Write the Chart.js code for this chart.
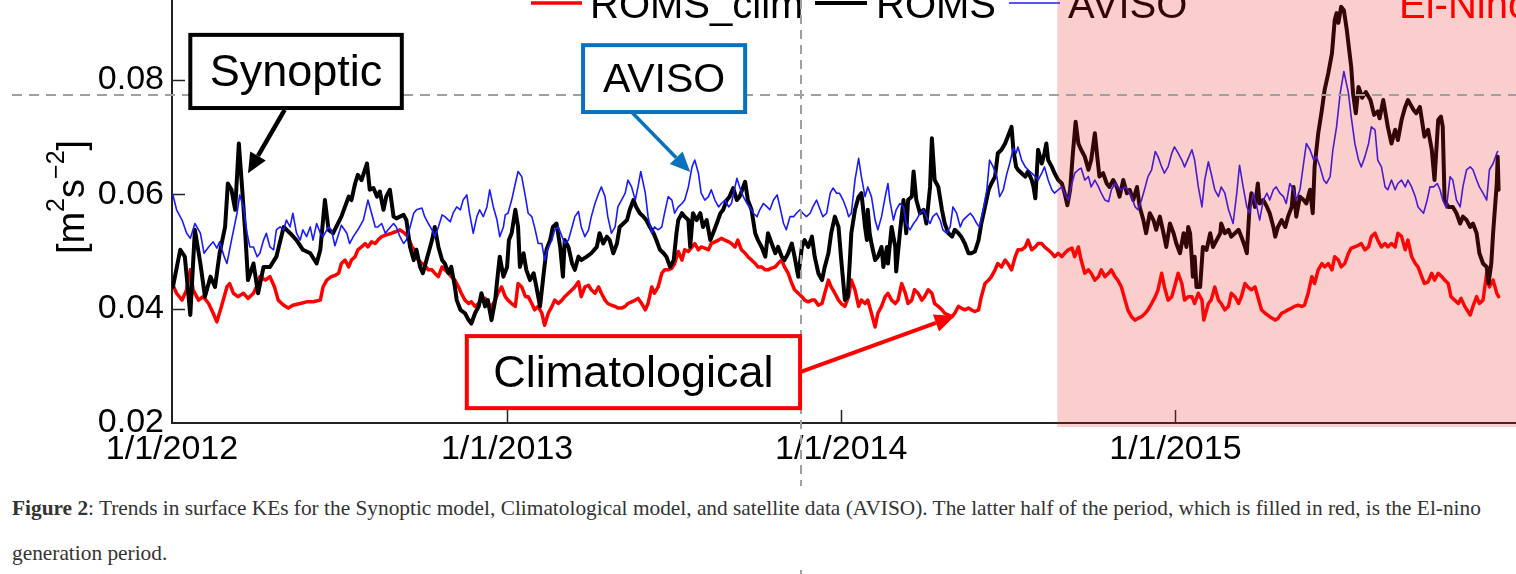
<!DOCTYPE html>
<html>
<head>
<meta charset="utf-8">
<script src="https://cdn.jsdelivr.net/npm/chart.js@4/dist/chart.umd.min.js"></script>
<style>
  html, body { margin: 0; padding: 0; background: #fff; overflow: hidden; }
  #wrap { position: relative; width: 1516px; height: 574px; }
  #c { position: absolute; left: 0; top: 0; }
  #caption { position: absolute; left: 12px; top: 486px; width: 1500px; height: 80px; background: #fff;
             font-family: "Liberation Serif", "Times New Roman", serif; font-size: 20px; line-height: 45px; color: #333; }
  #caption .l1 { white-space: nowrap; display: inline-block; }
</style>
</head>
<body>
<div id="wrap">
  <canvas id="c" width="1516" height="574"></canvas>
  <div id="caption">
    <div class="l1"><b>Figure 2</b>: Trends in surface KEs for the Synoptic model, Climatological model, and satellite data (AVISO). The latter half of the period, which is filled in red, is the El-nino</div>
    <div class="l2">generation period.</div>
  </div>
</div>
<script>
// Surface kinetic energy, [day since 1/1/2012, m^2 s^-2]
const romsClim = [
  [1,0.0441],[5,0.0427],[11,0.0415],[16,0.0433],[20,0.0468],[23,0.0433],[29,0.0415],[34,0.0421],[40,0.0409],[45,0.0392],
  [49,0.0377],[54,0.0404],[60,0.0438],[63,0.0444],[67,0.0427],[72,0.0421],[78,0.0427],[83,0.0418],[89,0.0427],[93,0.0441],
  [96,0.0456],[102,0.0450],[107,0.0456],[112,0.0438],[116,0.0415],[122,0.0406],[127,0.0401],[132,0.0406],[140,0.0409],[147,0.0412],
  [154,0.0412],[162,0.0415],[165,0.0438],[169,0.0450],[174,0.0456],[178,0.0458],[182,0.0462],[185,0.0479],[189,0.0485],[193,0.0473],
  [196,0.0485],[200,0.0491],[203,0.0503],[207,0.0508],[211,0.0514],[214,0.0508],[218,0.0517],[222,0.0514],[225,0.0520],[229,0.0526],
  [234,0.0529],[240,0.0532],[245,0.0535],[249,0.0538],[254,0.0532],[258,0.0526],[262,0.0508],[265,0.0503],[269,0.0485],[273,0.0479],
  [276,0.0476],[280,0.0468],[284,0.0468],[287,0.0462],[291,0.0456],[295,0.0473],[298,0.0468],[302,0.0462],[305,0.0456],[309,0.0450],
  [313,0.0438],[316,0.0427],[320,0.0415],[324,0.0409],[327,0.0412],[331,0.0404],[335,0.0409],[338,0.0415],[342,0.0418],[345,0.0409],
  [349,0.0404],[353,0.0415],[356,0.0427],[360,0.0438],[364,0.0421],[367,0.0415],[371,0.0409],[375,0.0404],[378,0.0444],[382,0.0438],
  [386,0.0421],[389,0.0421],[393,0.0409],[396,0.0398],[400,0.0404],[404,0.0392],[407,0.0371],[411,0.0392],[415,0.0404],[418,0.0415],
  [422,0.0409],[426,0.0415],[429,0.0421],[433,0.0427],[437,0.0433],[440,0.0438],[444,0.0447],[447,0.0421],[451,0.0438],[455,0.0441],
  [458,0.0433],[462,0.0427],[466,0.0438],[469,0.0427],[473,0.0415],[476,0.0409],[480,0.0406],[484,0.0404],[487,0.0401],[491,0.0401],
  [495,0.0404],[498,0.0409],[502,0.0412],[506,0.0415],[509,0.0418],[513,0.0409],[517,0.0398],[520,0.0409],[524,0.0438],[527,0.0427],
  [531,0.0438],[535,0.0462],[538,0.0468],[542,0.0468],[546,0.0471],[549,0.0479],[553,0.0500],[557,0.0485],[560,0.0503],[564,0.0500],
  [568,0.0508],[571,0.0514],[575,0.0503],[578,0.0508],[582,0.0506],[586,0.0503],[589,0.0514],[593,0.0517],[597,0.0520],[600,0.0523],
  [604,0.0520],[608,0.0517],[611,0.0514],[615,0.0508],[618,0.0520],[622,0.0503],[626,0.0497],[629,0.0491],[633,0.0485],[637,0.0479],
  [640,0.0473],[644,0.0473],[648,0.0468],[651,0.0468],[655,0.0471],[659,0.0473],[662,0.0479],[666,0.0485],[669,0.0473],[673,0.0462],
  [677,0.0444],[680,0.0433],[684,0.0427],[688,0.0421],[691,0.0415],[695,0.0412],[699,0.0415],[702,0.0415],[706,0.0406],[710,0.0409],
  [713,0.0427],[717,0.0450],[720,0.0438],[724,0.0427],[728,0.0415],[731,0.0409],[735,0.0404],[739,0.0421],[742,0.0450],[746,0.0433],
  [750,0.0404],[753,0.0415],[757,0.0409],[760,0.0415],[764,0.0392],[768,0.0368],[771,0.0392],[775,0.0404],[779,0.0421],[782,0.0427],
  [786,0.0415],[790,0.0409],[793,0.0415],[797,0.0444],[801,0.0427],[804,0.0409],[808,0.0415],[811,0.0433],[815,0.0427],[819,0.0415],
  [822,0.0421],[826,0.0433],[830,0.0427],[833,0.0409],[837,0.0404],[841,0.0398],[844,0.0392],[848,0.0389],[852,0.0386],[855,0.0392],
  [859,0.0404],[862,0.0401],[866,0.0398],[870,0.0401],[873,0.0398],[877,0.0395],[881,0.0398],[884,0.0421],[888,0.0444],[892,0.0450],
  [895,0.0456],[899,0.0468],[902,0.0479],[906,0.0473],[910,0.0485],[913,0.0479],[917,0.0468],[921,0.0491],[924,0.0503],[928,0.0503],
  [932,0.0508],[935,0.0520],[939,0.0503],[943,0.0508],[946,0.0514],[950,0.0514],[953,0.0508],[957,0.0503],[961,0.0497],[964,0.0491],
  [968,0.0497],[972,0.0491],[975,0.0497],[979,0.0503],[983,0.0506],[986,0.0491],[990,0.0508],[993,0.0485],[997,0.0462],[1001,0.0468],
  [1004,0.0462],[1008,0.0450],[1012,0.0456],[1015,0.0468],[1019,0.0456],[1023,0.0462],[1026,0.0468],[1030,0.0456],[1033,0.0450],[1037,0.0438],
  [1041,0.0415],[1044,0.0398],[1048,0.0386],[1052,0.0380],[1055,0.0383],[1059,0.0386],[1063,0.0392],[1066,0.0398],[1070,0.0409],[1074,0.0421],
  [1077,0.0433],[1081,0.0462],[1084,0.0438],[1088,0.0415],[1092,0.0421],[1095,0.0438],[1099,0.0462],[1103,0.0444],[1106,0.0415],[1110,0.0421],
  [1114,0.0421],[1117,0.0409],[1121,0.0427],[1125,0.0415],[1127,0.0380],[1132,0.0409],[1135,0.0415],[1139,0.0438],[1143,0.0415],[1146,0.0409],
  [1150,0.0398],[1154,0.0404],[1157,0.0427],[1161,0.0421],[1165,0.0409],[1168,0.0421],[1172,0.0444],[1175,0.0438],[1179,0.0433],[1183,0.0438],
  [1186,0.0421],[1190,0.0398],[1194,0.0392],[1199,0.0386],[1205,0.0380],[1208,0.0383],[1212,0.0392],[1216,0.0395],[1219,0.0398],[1223,0.0401],
  [1226,0.0404],[1230,0.0406],[1234,0.0404],[1237,0.0406],[1241,0.0427],[1245,0.0456],[1248,0.0444],[1252,0.0468],[1256,0.0479],[1259,0.0473],
  [1263,0.0479],[1267,0.0468],[1270,0.0491],[1274,0.0485],[1277,0.0473],[1281,0.0479],[1285,0.0497],[1288,0.0506],[1292,0.0508],[1296,0.0511],
  [1299,0.0514],[1303,0.0503],[1307,0.0508],[1310,0.0526],[1314,0.0532],[1317,0.0520],[1321,0.0508],[1325,0.0514],[1328,0.0508],[1332,0.0514],
  [1336,0.0508],[1339,0.0532],[1343,0.0526],[1347,0.0503],[1350,0.0520],[1354,0.0491],[1358,0.0479],[1361,0.0473],[1365,0.0456],[1368,0.0444],
  [1372,0.0447],[1376,0.0462],[1379,0.0450],[1383,0.0462],[1387,0.0456],[1390,0.0450],[1394,0.0444],[1397,0.0421],[1401,0.0415],[1405,0.0409],
  [1408,0.0418],[1412,0.0404],[1418,0.0389],[1421,0.0404],[1425,0.0421],[1428,0.0409],[1432,0.0415],[1436,0.0462],[1439,0.0438],[1443,0.0450],
  [1447,0.0427],[1449,0.0421]
];

const roms = [
  [1,0.0438],[9,0.0503],[14,0.0491],[20,0.0389],[25,0.0538],[31,0.0479],[36,0.0421],[42,0.0456],[47,0.0438],[52,0.0497],
  [58,0.0543],[61,0.0619],[65,0.0608],[69,0.0573],[73,0.0689],[77,0.0602],[80,0.0532],[83,0.0450],[89,0.0479],[94,0.0427],
  [100,0.0473],[107,0.0473],[114,0.0491],[122,0.0543],[129,0.0532],[136,0.0520],[143,0.0503],[151,0.0497],[158,0.0479],[162,0.0503],
  [167,0.0590],[171,0.0538],[176,0.0532],[185,0.0561],[193,0.0596],[196,0.0590],[200,0.0619],[203,0.0634],[207,0.0625],[213,0.0654],
  [216,0.0608],[220,0.0611],[224,0.0596],[227,0.0605],[231,0.0573],[234,0.0596],[238,0.0608],[242,0.0561],[245,0.0558],[249,0.0561],
  [253,0.0564],[256,0.0555],[260,0.0508],[264,0.0485],[267,0.0503],[271,0.0473],[274,0.0462],[278,0.0485],[284,0.0520],[287,0.0543],
  [291,0.0508],[295,0.0485],[298,0.0479],[302,0.0462],[305,0.0473],[309,0.0438],[311,0.0415],[315,0.0398],[320,0.0392],[324,0.0380],
  [327,0.0374],[331,0.0392],[335,0.0404],[338,0.0427],[342,0.0404],[345,0.0415],[349,0.0380],[353,0.0415],[356,0.0462],[358,0.0491],
  [362,0.0456],[366,0.0473],[368,0.0520],[371,0.0532],[375,0.0573],[378,0.0543],[380,0.0473],[384,0.0497],[387,0.0468],[391,0.0450],
  [395,0.0462],[398,0.0438],[402,0.0404],[406,0.0462],[409,0.0503],[413,0.0520],[416,0.0543],[420,0.0549],[424,0.0508],[427,0.0456],
  [429,0.0520],[433,0.0508],[437,0.0479],[440,0.0468],[444,0.0491],[447,0.0485],[453,0.0491],[458,0.0497],[464,0.0508],[467,0.0532],
  [471,0.0514],[475,0.0526],[478,0.0520],[482,0.0497],[486,0.0514],[489,0.0543],[493,0.0549],[497,0.0555],[500,0.0573],[504,0.0590],
  [507,0.0578],[511,0.0567],[515,0.0561],[518,0.0555],[522,0.0543],[526,0.0532],[529,0.0520],[533,0.0503],[537,0.0497],[540,0.0491],
  [544,0.0473],[548,0.0485],[551,0.0532],[553,0.0555],[557,0.0567],[560,0.0561],[564,0.0555],[566,0.0508],[569,0.0567],[573,0.0555],
  [577,0.0567],[580,0.0543],[584,0.0555],[588,0.0520],[591,0.0532],[595,0.0549],[599,0.0567],[602,0.0573],[606,0.0590],[609,0.0596],
  [613,0.0611],[617,0.0590],[620,0.0596],[626,0.0622],[629,0.0590],[633,0.0573],[637,0.0532],[640,0.0520],[644,0.0508],[648,0.0491],
  [651,0.0532],[655,0.0514],[659,0.0497],[662,0.0508],[666,0.0491],[669,0.0485],[673,0.0497],[677,0.0514],[680,0.0491],[684,0.0456],
  [688,0.0508],[691,0.0520],[695,0.0508],[699,0.0526],[702,0.0491],[706,0.0462],[710,0.0450],[713,0.0473],[717,0.0497],[720,0.0532],
  [724,0.0561],[728,0.0543],[731,0.0485],[735,0.0415],[738,0.0421],[740,0.0473],[742,0.0532],[746,0.0573],[750,0.0596],[753,0.0602],
  [755,0.0573],[757,0.0543],[759,0.0520],[760,0.0573],[762,0.0532],[764,0.0514],[768,0.0485],[771,0.0491],[775,0.0508],[777,0.0473],
  [781,0.0508],[782,0.0479],[786,0.0543],[790,0.0508],[791,0.0465],[795,0.0532],[799,0.0590],[802,0.0532],[804,0.0590],[808,0.0596],
  [810,0.0640],[813,0.0590],[817,0.0567],[821,0.0573],[824,0.0549],[828,0.0613],[830,0.0698],[833,0.0625],[837,0.0613],[841,0.0573],
  [844,0.0549],[848,0.0532],[852,0.0526],[855,0.0538],[859,0.0532],[862,0.0526],[866,0.0514],[870,0.0497],[873,0.0497],[877,0.0500],
  [881,0.0520],[884,0.0549],[888,0.0578],[892,0.0608],[895,0.0619],[899,0.0631],[902,0.0672],[906,0.0678],[910,0.0689],[913,0.0701],
  [917,0.0718],[919,0.0678],[922,0.0648],[924,0.0643],[928,0.0637],[932,0.0631],[935,0.0640],[939,0.0625],[941,0.0613],[943,0.0593],
  [946,0.0678],[950,0.0654],[953,0.0672],[955,0.0689],[957,0.0660],[961,0.0648],[964,0.0637],[968,0.0625],[972,0.0619],[975,0.0602],
  [978,0.0581],[981,0.0608],[984,0.0672],[987,0.0727],[990,0.0689],[993,0.0678],[997,0.0666],[1001,0.0643],[1004,0.0660],[1008,0.0707],
  [1011,0.0660],[1013,0.0631],[1017,0.0637],[1021,0.0619],[1024,0.0613],[1028,0.0625],[1032,0.0613],[1035,0.0596],[1039,0.0625],[1043,0.0602],
  [1046,0.0608],[1050,0.0590],[1054,0.0613],[1057,0.0578],[1061,0.0555],[1064,0.0532],[1068,0.0567],[1072,0.0555],[1075,0.0538],[1079,0.0561],
  [1083,0.0532],[1086,0.0508],[1090,0.0549],[1094,0.0532],[1097,0.0514],[1101,0.0497],[1105,0.0532],[1108,0.0508],[1110,0.0543],[1112,0.0532],
  [1114,0.0485],[1115,0.0456],[1117,0.0491],[1119,0.0438],[1123,0.0438],[1125,0.0485],[1126,0.0508],[1130,0.0503],[1134,0.0532],[1137,0.0508],
  [1141,0.0520],[1145,0.0532],[1146,0.0549],[1150,0.0532],[1154,0.0538],[1157,0.0526],[1161,0.0532],[1165,0.0538],[1168,0.0526],[1172,0.0508],
  [1174,0.0497],[1177,0.0578],[1179,0.0602],[1183,0.0578],[1186,0.0619],[1188,0.0584],[1192,0.0590],[1196,0.0578],[1199,0.0567],[1203,0.0543],
  [1205,0.0526],[1208,0.0543],[1212,0.0555],[1216,0.0543],[1219,0.0561],[1223,0.0578],[1225,0.0613],[1228,0.0561],[1232,0.0596],[1236,0.0590],
  [1239,0.0584],[1243,0.0608],[1246,0.0567],[1248,0.0648],[1252,0.0707],[1256,0.0748],[1259,0.0783],[1263,0.0812],[1267,0.0847],[1270,0.0905],
  [1272,0.0917],[1274,0.0900],[1277,0.0928],[1280,0.0922],[1283,0.0890],[1286,0.0850],[1288,0.0823],[1290,0.0777],[1293,0.0742],[1296,0.0788],
  [1300,0.0769],[1304,0.0779],[1309,0.0765],[1313,0.0739],[1317,0.0745],[1319,0.0733],[1323,0.0765],[1328,0.0718],[1332,0.0689],[1336,0.0713],
  [1339,0.0695],[1343,0.0730],[1347,0.0753],[1350,0.0765],[1356,0.0748],[1359,0.0742],[1363,0.0753],[1368,0.0701],[1372,0.0713],[1376,0.0678],
  [1379,0.0625],[1383,0.0730],[1386,0.0736],[1388,0.0718],[1390,0.0590],[1394,0.0578],[1399,0.0578],[1403,0.0567],[1407,0.0549],[1410,0.0561],
  [1414,0.0555],[1418,0.0543],[1421,0.0549],[1425,0.0532],[1428,0.0497],[1432,0.0479],[1436,0.0473],[1438,0.0444],[1441,0.0479],[1443,0.0532],
  [1447,0.0619],[1448,0.0666],[1449,0.0608]
];

const aviso = [
  [1,0.0599],[5,0.0573],[11,0.0555],[16,0.0532],[20,0.0523],[25,0.0549],[31,0.0532],[35,0.0497],[40,0.0508],[45,0.0517],
  [49,0.0506],[52,0.0517],[57,0.0491],[60,0.0479],[65,0.0520],[71,0.0567],[74,0.0599],[78,0.0578],[82,0.0532],[85,0.0508],
  [89,0.0508],[93,0.0491],[96,0.0497],[100,0.0520],[103,0.0532],[107,0.0508],[111,0.0503],[114,0.0538],[118,0.0543],[122,0.0538],
  [125,0.0555],[129,0.0543],[132,0.0567],[136,0.0532],[140,0.0520],[143,0.0538],[147,0.0526],[151,0.0543],[154,0.0520],[158,0.0549],
  [162,0.0532],[165,0.0526],[171,0.0543],[174,0.0538],[178,0.0510],[185,0.0546],[191,0.0532],[194,0.0514],[198,0.0526],[203,0.0538],
  [209,0.0555],[214,0.0590],[218,0.0567],[222,0.0543],[225,0.0543],[229,0.0549],[233,0.0532],[236,0.0538],[242,0.0549],[245,0.0543],
  [249,0.0526],[253,0.0514],[256,0.0520],[260,0.0543],[264,0.0567],[267,0.0573],[273,0.0576],[276,0.0561],[280,0.0549],[284,0.0538],
  [287,0.0526],[291,0.0543],[295,0.0564],[298,0.0561],[302,0.0555],[304,0.0552],[307,0.0567],[311,0.0578],[315,0.0573],[318,0.0590],
  [322,0.0599],[325,0.0567],[329,0.0532],[333,0.0561],[336,0.0573],[340,0.0561],[344,0.0578],[347,0.0608],[351,0.0578],[355,0.0555],
  [358,0.0526],[362,0.0543],[364,0.0564],[367,0.0567],[371,0.0590],[375,0.0619],[378,0.0640],[382,0.0631],[386,0.0596],[389,0.0567],
  [393,0.0561],[396,0.0543],[400,0.0514],[404,0.0514],[407,0.0485],[411,0.0508],[415,0.0520],[418,0.0538],[422,0.0543],[426,0.0526],
  [429,0.0514],[433,0.0520],[437,0.0543],[440,0.0561],[444,0.0570],[447,0.0543],[451,0.0526],[455,0.0538],[458,0.0561],[462,0.0584],
  [466,0.0602],[469,0.0613],[473,0.0596],[476,0.0561],[480,0.0532],[484,0.0543],[487,0.0578],[491,0.0590],[495,0.0602],[498,0.0625],
  [502,0.0613],[506,0.0590],[509,0.0613],[512,0.0640],[517,0.0602],[520,0.0561],[524,0.0532],[527,0.0543],[531,0.0538],[535,0.0543],
  [538,0.0567],[542,0.0596],[546,0.0590],[549,0.0567],[553,0.0578],[557,0.0584],[560,0.0590],[564,0.0613],[568,0.0648],[571,0.0660],
  [575,0.0637],[578,0.0602],[582,0.0590],[586,0.0596],[589,0.0608],[593,0.0590],[597,0.0578],[600,0.0584],[604,0.0590],[608,0.0578],
  [611,0.0584],[615,0.0613],[617,0.0628],[620,0.0613],[624,0.0596],[628,0.0584],[631,0.0578],[635,0.0567],[639,0.0561],[642,0.0573],
  [646,0.0584],[650,0.0578],[653,0.0573],[657,0.0590],[661,0.0599],[664,0.0578],[668,0.0549],[671,0.0538],[675,0.0561],[679,0.0561],
  [682,0.0567],[686,0.0573],[689,0.0567],[693,0.0561],[697,0.0567],[700,0.0578],[704,0.0590],[708,0.0573],[711,0.0561],[715,0.0567],
  [719,0.0602],[722,0.0611],[726,0.0602],[729,0.0602],[733,0.0590],[737,0.0573],[739,0.0561],[742,0.0567],[746,0.0625],[750,0.0663],
  [753,0.0631],[757,0.0596],[760,0.0613],[764,0.0596],[768,0.0555],[771,0.0538],[775,0.0561],[779,0.0596],[782,0.0619],[784,0.0590],
  [788,0.0555],[791,0.0573],[795,0.0584],[799,0.0578],[802,0.0549],[806,0.0538],[810,0.0549],[813,0.0555],[817,0.0567],[821,0.0573],
  [824,0.0561],[828,0.0549],[831,0.0561],[835,0.0567],[839,0.0555],[842,0.0538],[846,0.0532],[850,0.0543],[853,0.0578],[857,0.0567],
  [861,0.0543],[864,0.0555],[868,0.0561],[872,0.0567],[875,0.0561],[879,0.0549],[882,0.0543],[886,0.0573],[890,0.0608],[893,0.0660],
  [897,0.0648],[901,0.0631],[904,0.0596],[908,0.0608],[912,0.0637],[915,0.0654],[919,0.0681],[922,0.0672],[924,0.0683],[928,0.0660],
  [932,0.0648],[935,0.0643],[939,0.0637],[943,0.0631],[946,0.0625],[950,0.0637],[953,0.0648],[957,0.0625],[961,0.0608],[964,0.0602],
  [968,0.0608],[972,0.0613],[975,0.0602],[979,0.0590],[983,0.0619],[986,0.0637],[990,0.0643],[993,0.0646],[997,0.0625],[1001,0.0631],
  [1004,0.0613],[1008,0.0625],[1012,0.0613],[1015,0.0602],[1019,0.0590],[1023,0.0587],[1026,0.0608],[1030,0.0619],[1033,0.0613],[1037,0.0608],
  [1041,0.0613],[1044,0.0608],[1048,0.0596],[1052,0.0578],[1055,0.0573],[1059,0.0590],[1063,0.0613],[1066,0.0631],[1070,0.0643],[1074,0.0675],
  [1077,0.0666],[1081,0.0648],[1084,0.0637],[1088,0.0648],[1092,0.0672],[1095,0.0683],[1099,0.0672],[1103,0.0660],[1106,0.0648],[1110,0.0663],
  [1114,0.0678],[1117,0.0660],[1121,0.0613],[1125,0.0578],[1128,0.0625],[1132,0.0657],[1135,0.0637],[1139,0.0608],[1143,0.0596],[1146,0.0613],
  [1150,0.0602],[1154,0.0573],[1159,0.0549],[1163,0.0602],[1166,0.0651],[1170,0.0613],[1174,0.0578],[1177,0.0567],[1181,0.0602],[1185,0.0578],
  [1188,0.0555],[1192,0.0590],[1196,0.0602],[1199,0.0590],[1203,0.0608],[1206,0.0613],[1210,0.0602],[1214,0.0596],[1217,0.0584],[1221,0.0619],
  [1225,0.0608],[1228,0.0590],[1232,0.0608],[1236,0.0654],[1239,0.0689],[1243,0.0678],[1247,0.0660],[1250,0.0666],[1254,0.0648],[1258,0.0625],
  [1261,0.0619],[1265,0.0631],[1268,0.0678],[1272,0.0718],[1276,0.0777],[1280,0.0815],[1285,0.0777],[1288,0.0736],[1292,0.0689],[1296,0.0660],
  [1299,0.0648],[1303,0.0666],[1307,0.0689],[1310,0.0718],[1314,0.0713],[1317,0.0660],[1321,0.0648],[1325,0.0613],[1328,0.0608],[1332,0.0625],
  [1336,0.0608],[1339,0.0619],[1343,0.0625],[1347,0.0613],[1350,0.0625],[1354,0.0613],[1358,0.0596],[1361,0.0578],[1367,0.0567],[1371,0.0590],
  [1374,0.0613],[1378,0.0613],[1382,0.0619],[1385,0.0608],[1388,0.0590],[1392,0.0576],[1396,0.0631],[1399,0.0625],[1403,0.0590],[1407,0.0578],
  [1410,0.0613],[1414,0.0643],[1418,0.0648],[1421,0.0643],[1425,0.0625],[1428,0.0613],[1432,0.0602],[1436,0.0590],[1439,0.0643],[1443,0.0654],
  [1447,0.0672],[1448,0.0675]
];

// Axis ticks
const tickDays   = [0, 366, 731, 1096];
const tickLabels = ['1/1/2012', '1/1/2013', '1/1/2014', '1/1/2015'];
const yTicks     = [0.02, 0.04, 0.06, 0.08];

// Reference markers
const elNinoStart = 967;     // start of the El-Nino generation period (day)
const refDay      = 687;     // vertical reference line (day)
const refLevel    = 0.0774;  // horizontal reference line (m^2 s^-2)

// Call-out boxes: [dayLeft, dayRight, valueTop, valueBottom], arrows in (day, value)
const notes = [
  { text: 'Synoptic',       color: '#000000', size: 45, box: [20, 251, 0.0879, 0.0751],  from: [123, 0.0748], to: [83, 0.0637],  width: 4.5 },
  { text: 'AVISO',          color: '#0a72bd', size: 41, box: [449, 626, 0.0861, 0.0744], from: [502, 0.0744], to: [566, 0.0639], width: 3.5 },
  { text: 'Climatological', color: '#ff0000', size: 45, box: [322, 686, 0.0352, 0.0226], from: [686, 0.0289], to: [855, 0.0387], width: 4 }
];

const FONT = '"Liberation Sans", Arial, Helvetica, sans-serif';
const toXY = pairs => pairs.map(([x, y]) => ({ x, y }));

// Fit the first caption line to the column width
(function fitCaption() {
  const l1 = document.querySelector('#caption .l1');
  const cap = document.getElementById('caption');
  const w = l1.getBoundingClientRect().width;
  const size = 20 * 1469 / w;
  cap.style.fontSize = size.toFixed(2) + 'px';
})();

function arrow(ctx, x1, y1, x2, y2, color, w) {
  const ang = Math.atan2(y2 - y1, x2 - x1);
  const hl = 20, hw = 9;
  const bx = x2 - hl * Math.cos(ang), by = y2 - hl * Math.sin(ang);
  ctx.strokeStyle = color; ctx.fillStyle = color; ctx.lineWidth = w; ctx.lineCap = 'butt';
  ctx.beginPath(); ctx.moveTo(x1, y1); ctx.lineTo(bx, by); ctx.stroke();
  ctx.beginPath();
  ctx.moveTo(x2, y2);
  ctx.lineTo(bx + hw * Math.sin(ang), by - hw * Math.cos(ang));
  ctx.lineTo(bx - hw * Math.sin(ang), by + hw * Math.cos(ang));
  ctx.closePath(); ctx.fill();
}

const decor = {
  id: 'decor',
  beforeDatasetsDraw(chart) {
    // inward tick marks
    const { ctx, chartArea: a, scales: { x, y } } = chart;
    ctx.save();
    ctx.strokeStyle = '#222'; ctx.lineWidth = 1.5;
    ctx.beginPath();
    tickDays.slice(1).forEach(d => {
      const p = Math.round(x.getPixelForValue(d)) + 0.5;
      ctx.moveTo(p, a.bottom); ctx.lineTo(p, a.bottom - 13);
    });
    yTicks.slice(1).forEach(v => {
      const p = Math.round(y.getPixelForValue(v)) + 0.5;
      ctx.moveTo(a.left, p); ctx.lineTo(a.left + 13, p);
    });
    ctx.stroke();
    ctx.restore();
  },
  afterDatasetsDraw(chart) {
    const { ctx, chartArea: a, scales: { x } } = chart;
    ctx.save();
    // legend
    ctx.font = '40px ' + FONT;
    ctx.textBaseline = 'alphabetic';
    ctx.textAlign = 'left';
    const items = [
      { label: 'ROMS_clim', color: '#ff0000', w: 3.5, x0: 531, x1: 582, tx: 590 },
      { label: 'ROMS',      color: '#000000', w: 4,   x0: 815, x1: 867, tx: 876 },
      { label: 'AVISO',     color: '#1a1aff', w: 1.6, x0: 1009, x1: 1060, tx: 1068 }
    ];
    items.forEach(it => {
      ctx.strokeStyle = it.color; ctx.lineWidth = it.w;
      ctx.beginPath(); ctx.moveTo(it.x0, 3); ctx.lineTo(it.x1, 3); ctx.stroke();
      ctx.fillStyle = '#000';
      ctx.fillText(it.label, it.tx, 18);
    });
    // El-Nino period shading
    const xs = x.getPixelForValue(elNinoStart);
    ctx.fillStyle = 'rgba(236, 30, 30, 0.22)';
    ctx.fillRect(xs, 0, chart.width - xs, a.bottom + 4);
    ctx.restore();
  },
  afterDraw(chart) {
    const { ctx, scales: { x, y } } = chart;
    ctx.save();
    // dashed reference lines
    ctx.strokeStyle = '#a0a0a0'; ctx.lineWidth = 2;
    ctx.setLineDash([10, 7]);
    const hy = Math.round(y.getPixelForValue(refLevel));
    ctx.beginPath(); ctx.moveTo(12, hy); ctx.lineTo(chart.width, hy); ctx.stroke();
    ctx.setLineDash([9, 6]);
    const vx = Math.round(x.getPixelForValue(refDay));
    ctx.beginPath(); ctx.moveTo(vx, 0); ctx.lineTo(vx, chart.height); ctx.stroke();
    ctx.setLineDash([]);

    // call-outs
    notes.forEach(n => {
      const l = x.getPixelForValue(n.box[0]), r = x.getPixelForValue(n.box[1]);
      const t = y.getPixelForValue(n.box[2]), b = y.getPixelForValue(n.box[3]);
      ctx.fillStyle = '#fff';
      ctx.fillRect(l, t, r - l, b - t);
      ctx.strokeStyle = n.color; ctx.lineWidth = 4; ctx.lineJoin = 'miter';
      ctx.strokeRect(l, t, r - l, b - t);
      ctx.fillStyle = '#000';
      ctx.font = n.size + 'px ' + FONT;
      ctx.textAlign = 'center'; ctx.textBaseline = 'middle';
      ctx.fillText(n.text, (l + r) / 2, (t + b) / 2 + 2);
      arrow(ctx, x.getPixelForValue(n.from[0]), y.getPixelForValue(n.from[1]),
                 x.getPixelForValue(n.to[0]), y.getPixelForValue(n.to[1]), n.color, n.width);
    });

    // El-Nino label
    ctx.font = '40px ' + FONT;
    ctx.textAlign = 'left'; ctx.textBaseline = 'alphabetic';
    ctx.fillStyle = '#ff0000';
    ctx.fillText('El-Nino', 1399, 18);

    // y-axis title [m^2 s^-2]
    ctx.translate(84, 197);
    ctx.rotate(-Math.PI / 2);
    ctx.fillStyle = '#000';
    const parts = [['[m', 38, 0], ['2', 25, -20], ['s', 38, 0], ['\u22122', 25, -20], [']', 38, 0]];
    let total = 0;
    parts.forEach(p => { ctx.font = p[1] + 'px ' + FONT; total += ctx.measureText(p[0]).width; });
    let cx = -total / 2;
    parts.forEach(p => {
      ctx.font = p[1] + 'px ' + FONT;
      ctx.fillText(p[0], cx, p[2]);
      cx += ctx.measureText(p[0]).width;
    });
    ctx.restore();
  }
};

new Chart(document.getElementById('c'), {
  type: 'line',
  data: {
    datasets: [
      { label: 'AVISO',     data: toXY(aviso),    borderColor: '#1a1aff', borderWidth: 1.6, order: 0 },
      { label: 'ROMS',      data: toXY(roms),     borderColor: '#000000', borderWidth: 4,   order: 1 },
      { label: 'ROMS_clim', data: toXY(romsClim), borderColor: '#ff0000', borderWidth: 3.5, order: 2 }
    ]
  },
  options: {
    responsive: false,
    animation: false,
    devicePixelRatio: 1,
    elements: { point: { radius: 0 }, line: { tension: 0, borderJoinStyle: 'round', borderCapStyle: 'round' } },
    layout: { padding: { left: 0, right: 0, top: 0, bottom: 91 }, autoPadding: false },
    plugins: { legend: { display: false }, tooltip: { enabled: false } },
    scales: {
      x: {
        type: 'linear', min: 0, max: 1468,
        afterBuildTicks: s => { s.ticks = tickDays.map(v => ({ value: v })); },
        afterFit: s => { s.height = 60; s.paddingLeft = 0; s.paddingRight = 0; },
        ticks: {
          autoSkip: false, maxRotation: 0, padding: 6, color: '#000',
          font: { family: FONT, size: 34 },
          callback: v => tickLabels[tickDays.indexOf(v)]
        },
        grid: { display: true, drawOnChartArea: false, drawTicks: false },
        border: { display: true, color: '#222', width: 2 }
      },
      y: {
        type: 'linear', min: 0.02, max: 0.094,
        afterBuildTicks: s => { s.ticks = yTicks.map(v => ({ value: v })); },
        afterFit: s => { s.width = 172; s.paddingTop = 0; s.paddingBottom = 0; },
        ticks: {
          padding: 8, color: '#000',
          font: { family: FONT, size: 34 },
          callback: v => v.toFixed(2)
        },
        grid: { display: true, drawOnChartArea: false, drawTicks: false },
        border: { display: true, color: '#222', width: 2 }
      }
    }
  },
  plugins: [decor]
});
</script>
</body>
</html>
